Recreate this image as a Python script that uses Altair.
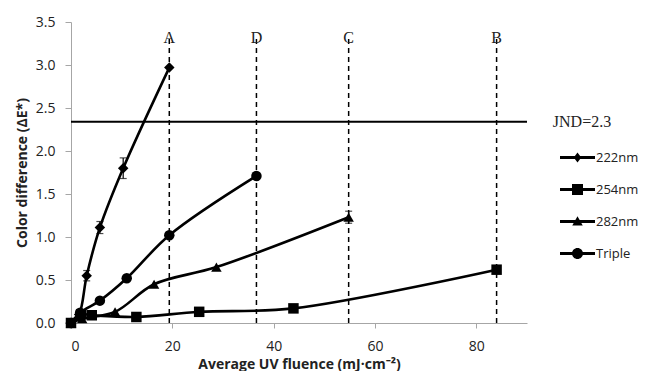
import altair as alt
import pandas as pd

series_names = ["222nm", "254nm", "282nm", "Triple"]

x_222 = [0, 1.6, 3.1, 5.7, 10.3, 19.4]
y_222 = [0, 0.10, 0.55, 1.11, 1.80, 2.97]
e_222 = [0, 0, 0.06, 0.07, 0.12, 0]

x_254 = [0, 2.0, 4.1, 12.9, 25.3, 43.9, 84.0]
y_254 = [0, 0.10, 0.09, 0.07, 0.13, 0.17, 0.62]
e_254 = [0, 0, 0, 0, 0, 0, 0]

x_282 = [0, 2.2, 8.7, 16.4, 28.7, 54.8]
y_282 = [0, 0.05, 0.13, 0.45, 0.65, 1.23]
e_282 = [0, 0, 0, 0, 0, 0.07]

x_tri = [0, 1.8, 5.7, 11.0, 19.4, 36.6]
y_tri = [0, 0.12, 0.26, 0.52, 1.02, 1.71]
e_tri = [0, 0, 0, 0, 0, 0]

ref_labels = ["A", "D", "C", "B"]
ref_x = [19.4, 36.6, 54.8, 84.0]
ref_top = 3.31

jnd_value = 2.34
jnd_label = "JND=2.3"
jnd_label_x = 95.1

x_ticks = [0, 20, 40, 60, 80]
y_ticks = [0, 0.5, 1.0, 1.5, 2.0, 2.5, 3.0, 3.5]

x_title = "Average UV fluence (mJ·cm⁻²)"
y_title = "Color difference (ΔE*)"

rows = []
for name, xs, ys, es in [("222nm", x_222, y_222, e_222), ("254nm", x_254, y_254, e_254),
                         ("282nm", x_282, y_282, e_282), ("Triple", x_tri, y_tri, e_tri)]:
    for i, (a, b, c) in enumerate(zip(xs, ys, es)):
        rows.append({"series": name, "x": a, "y": b, "err": c, "order": i})
df = pd.DataFrame(rows)

refs = pd.DataFrame({"label": ref_labels, "x": ref_x, "y0": [0] * 4, "y1": [ref_top] * 4})
jnd = pd.DataFrame({"x0": [0], "x1": [90], "y": [jnd_value], "label": [jnd_label], "lx": [jnd_label_x]})

xscale = alt.Scale(domain=[0, 90], nice=False)
yscale = alt.Scale(domain=[0, 3.5], nice=False)

xaxis = alt.Axis(values=x_ticks, grid=False,
                 domainColor="#a6a6a6", tickColor="#a6a6a6", tickSize=5,
                 labelFont="Open Sans", labelFontSize=14, labelColor="#222222", labelPadding=11,
                 titleFont="Open Sans", titleFontSize=14, titleFontWeight="bold", titleColor="#222222",
                 titlePadding=4)
yaxis = alt.Axis(values=y_ticks, format=".1f", grid=False,
                 domainColor="#a6a6a6", tickColor="#a6a6a6", tickSize=6,
                 labelFont="Open Sans", labelFontSize=14, labelColor="#222222", labelPadding=10,
                 titleFont="Open Sans", titleFontSize=14, titleFontWeight="bold", titleColor="#222222",
                 titlePadding=6)

X = alt.X("x:Q", scale=xscale, axis=xaxis, title=x_title)
Y = alt.Y("y:Q", scale=yscale, axis=yaxis, title=y_title)

shape_std = alt.Scale(domain=series_names, range=["diamond", "square", "triangle-up", "circle"])
shape_legend = alt.Scale(domain=series_names, range=[
    "M-3.5,-0.3H3.5V0.3H-3.5Z M0,-1L0.75,0L0,1L-0.75,0Z",
    "M-3.5,-0.3H3.5V0.3H-3.5Z M-1.1,-1.1H1.1V1.1H-1.1Z",
    "M-3.5,-0.3H3.5V0.3H-3.5Z M0,-1.05L1.05,0.8H-1.05Z",
    "M-3.5,-0.3H3.5V0.3H-3.5Z M-1.1,0A1.1,1.1 0 1,1 1.1,0A1.1,1.1 0 1,1 -1.1,0Z",
])

base = alt.Chart(df)

lines = base.mark_line(color="black", strokeWidth=2.6, interpolate="catmull-rom").encode(
    x=X, y=Y,
    detail="series:N",
    order="order:Q",
)

points = base.mark_point(filled=True, color="black", opacity=1, size=110).encode(
    x=X, y=Y,
    shape=alt.Shape("series:N", scale=shape_std, legend=None),
)

errs = base.transform_filter("datum.err > 0").mark_errorbar(
    ticks={"size": 7, "color": "black"}, color="black", thickness=1.2
).encode(
    x=X, y=Y, yError="err:Q",
)

legend_layer = base.mark_point(filled=True, color="black", opacity=0, size=100).encode(
    x=X, y=Y,
    shape=alt.Shape("series:N", scale=shape_legend, legend=alt.Legend(
        title=None, orient="none", legendX=500, legendY=129, padding=0,
        symbolSize=100, symbolOpacity=1, symbolFillColor="black", symbolStrokeWidth=0,
        labelFont="Open Sans", labelFontSize=13, labelColor="#222222", labelOffset=12,
        rowPadding=18,
    )),
)

ref_rules = alt.Chart(refs).mark_rule(color="black", strokeWidth=1.5, strokeDash=[5, 4]).encode(
    x=alt.X("x:Q", title=x_title), y=alt.Y("y0:Q", title=y_title), y2="y1:Q",
)
ref_text = alt.Chart(refs).mark_text(font="Liberation Serif", fontSize=16, color="#222222",
                                     baseline="middle", align="center").encode(
    x=alt.X("x:Q", title=x_title), y=alt.Y("y1:Q", title=y_title), text="label:N",
)

jnd_rule = alt.Chart(jnd).mark_rule(color="black", strokeWidth=2).encode(
    x=alt.X("x0:Q", title=x_title), x2="x1:Q", y=alt.Y("y:Q", title=y_title),
)
jnd_text = alt.Chart(jnd).mark_text(font="Liberation Serif", fontSize=16, color="#222222",
                                    baseline="middle", align="left", clip=False).encode(
    x=alt.X("lx:Q", title=x_title), y=alt.Y("y:Q", title=y_title), text="label:N",
)

chart = alt.layer(lines, ref_rules, ref_text, jnd_rule, jnd_text, errs, points, legend_layer).resolve_scale(
    shape="independent"
).properties(
    width=456, height=301,
    autosize="none",
    padding={"left": 63, "top": 14, "right": 115, "bottom": 48},
).configure_view(stroke=None)

chart.save("out.html", embed_options={"renderer": "svg", "actions": False})
